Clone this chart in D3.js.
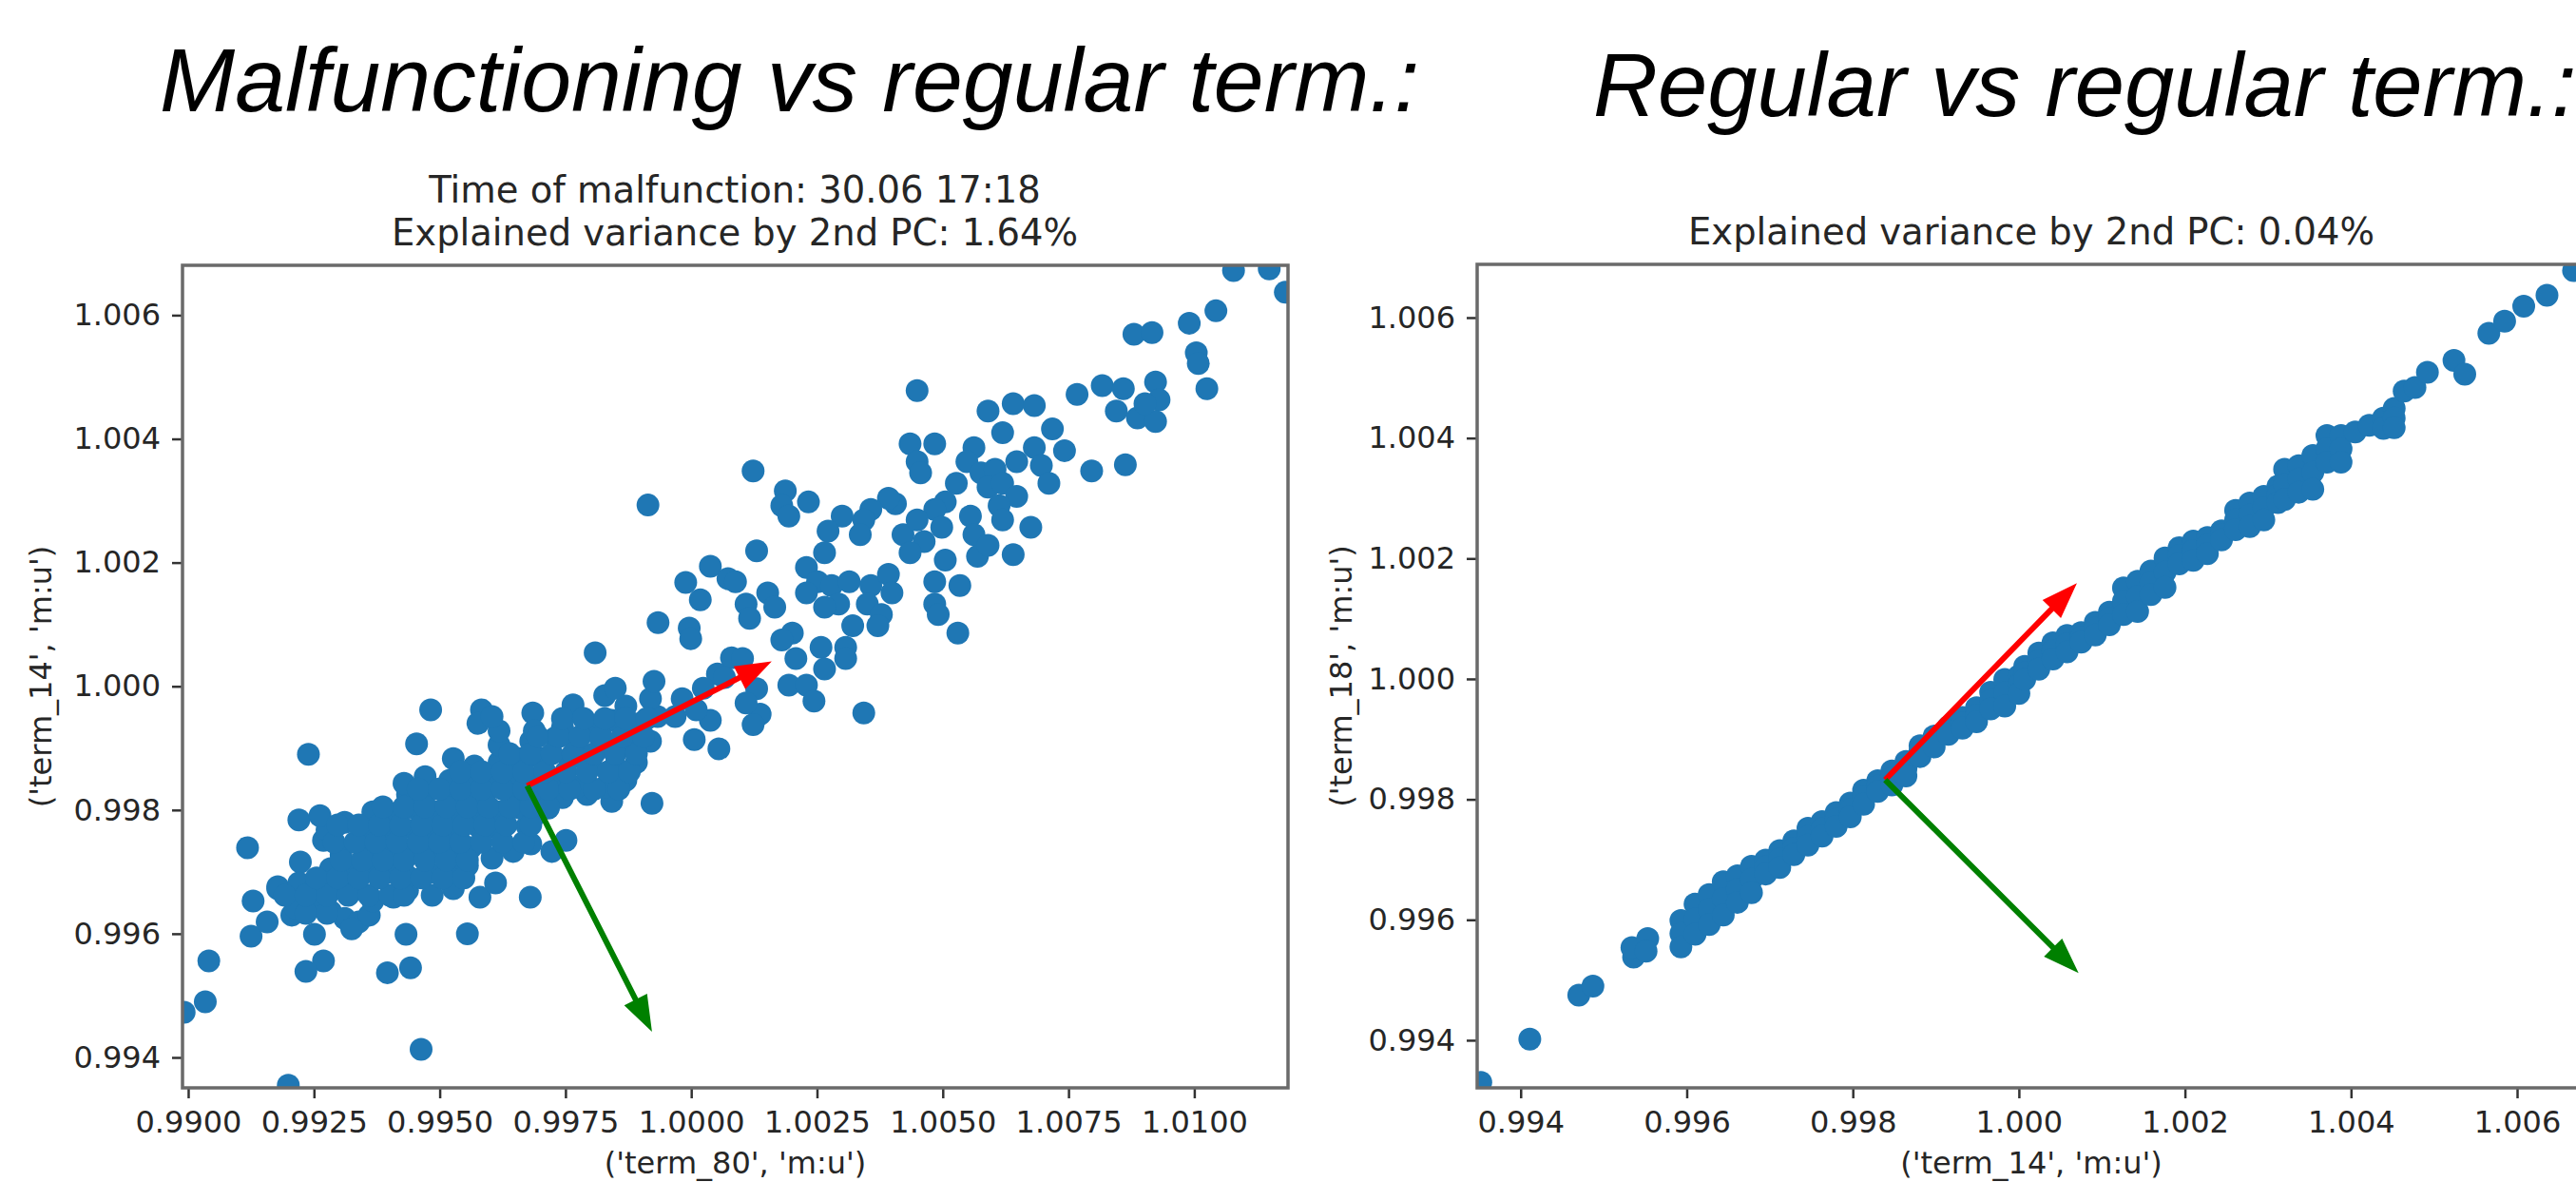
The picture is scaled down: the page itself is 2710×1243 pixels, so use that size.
<!DOCTYPE html>
<html>
<head>
<meta charset="utf-8">
<script src="https://cdn.jsdelivr.net/npm/d3@7"></script>
<style>
  body { margin: 0; background: #fff; }
  svg { display: block; }
</style>
</head>
<body>
<svg id="chart" width="2710" height="1243"></svg>
<script>
// ---- data ----
const headings = ["Malfunctioning vs regular term.:", "Regular vs regular term.:"];
const malfTitle = ["Time of malfunction: 30.06 17:18", "Explained variance by 2nd PC: 1.64%"];
const regTitle = ["Explained variance by 2nd PC: 0.04%"];
const malfLabels = ["('term_80', 'm:u')", "('term_14', 'm:u')"];
const regLabels = ["('term_14', 'm:u')", "('term_18', 'm:u')"];

const malfXDomain = [0.989887, 1.011863];
const malfYDomain = [0.993508, 1.006806];
const regXDomain = [0.993476, 1.006824];
const regYDomain = [0.993209, 1.006884];

const malfXTicks = [0.99, 0.9925, 0.995, 0.9975, 1.0, 1.0025, 1.005, 1.0075, 1.01];
const malfYTicks = [0.994, 0.996, 0.998, 1.0, 1.002, 1.004, 1.006];
const regXTicks = [0.994, 0.996, 0.998, 1.0, 1.002, 1.004, 1.006];
const regYTicks = [0.994, 0.996, 0.998, 1.0, 1.002, 1.004, 1.006];

// principal component arrows: origin, 1st PC end, 2nd PC end
const malfArrows = [[0.996738, 0.998392], [1.001600, 1.000404], [0.999220, 0.994414]];
const regArrows = [[0.998390, 0.998325], [1.000699, 1.001590], [1.000719, 0.995115]];

// malfunctioning terminal: outliers and lower cloud
const malfPoints = [
  [0.99239,0.99890],[0.99482,0.99962],[0.99454,0.99907],[0.99118,0.99739],[0.99220,0.99784],[0.99583,0.99962],
  [0.99685,0.99957],[0.99765,0.99970],[0.99809,1.00054],[0.99934,1.00103],[0.99996,1.00094],[0.99999,1.00077],
  [0.99989,1.00168],[1.00038,1.00194],[1.00018,1.00140],[1.00073,1.00174],[1.00080,1.00046],[0.99914,1.00293],
  [1.00052,1.00020],[1.00055,0.99899],[1.00006,0.99914],[1.00038,0.99945],[0.99922,0.99811],[0.99842,0.99814],
  [0.99751,0.99751],[0.99723,0.99733],[0.99680,0.99659],[0.99580,0.99659],[0.99611,0.99682],[0.99527,0.99673],
  [0.99485,0.99662],[0.99555,0.99600],[0.99433,0.99599],[0.99442,0.99545],[0.99396,0.99537],[0.99269,0.99556],
  [0.99234,0.99539],[0.99251,0.99599],[0.99041,0.99556],[0.99034,0.99490],[0.98992,0.99473],[0.99463,0.99413],
  [0.99199,0.99355],[0.99129,0.99653],[0.99125,0.99596],[0.99157,0.99619],[0.99206,0.99630],[0.99178,0.99673],
  [0.99223,0.99716],
  [0.99213,0.99642],[0.99255,0.99653],[0.99283,0.99636],[0.99311,0.99625],[0.99339,0.99619],[0.99360,0.99630],[0.99325,0.99608],
  [0.99178,0.99676],[0.99220,0.99682],[0.99255,0.99682],[0.99290,0.99676],[0.99325,0.99670],[0.99367,0.99653],[0.99408,0.99659],[0.99436,0.99670],
  [0.99283,0.99705],[0.99318,0.99699],[0.99353,0.99705],[0.99394,0.99699],[0.99436,0.99693],[0.99478,0.99699],[0.99520,0.99699],[0.99555,0.99710],
  [0.99269,0.99751],[0.99304,0.99728],[0.99353,0.99733],[0.99394,0.99739],[0.99436,0.99733],[0.99478,0.99728],[0.99520,0.99733],[0.99562,0.99739],
  [0.99604,0.99722],[0.99646,0.99733],[0.99681,0.99745],
  [0.99276,0.99768],[0.99360,0.99762],[0.99408,0.99762],[0.99450,0.99768],[0.99492,0.99762],[0.99534,0.99768],[0.99576,0.99774],[0.99618,0.99768],[0.99674,0.99774],
  [0.99262,0.99791],[0.99311,0.99780],[0.99367,0.99797],[0.99408,0.99791],[0.99450,0.99803],[0.99492,0.99797],[0.99534,0.99797],[0.99576,0.99803],
  [0.99618,0.99797],[0.99660,0.99803],[0.99688,0.99791],[0.99716,0.99803],
  [0.99436,0.99825],[0.99478,0.99831],[0.99520,0.99825],[0.99562,0.99825],[0.99604,0.99837],[0.99646,0.99831],[0.99695,0.99825],[0.99744,0.99820],[0.99793,0.99825],
  [0.99429,0.99843],[0.99471,0.99854],[0.99520,0.99848],[0.99562,0.99860],[0.99604,0.99854],[0.99646,0.99860],[0.99688,0.99848],[0.99730,0.99848],
  [0.99772,0.99837],[0.99828,0.99837],[0.99870,0.99848],
  [0.99527,0.99883],[0.99569,0.99871],[0.99618,0.99877],[0.99660,0.99883],[0.99702,0.99883],[0.99758,0.99883],[0.99800,0.99877],[0.99849,0.99871],[0.99891,0.99877],
  [0.99618,0.99905],[0.99681,0.99911],[0.99730,0.99917],[0.99772,0.99905],[0.99821,0.99911],[0.99870,0.99911],[0.99919,0.99911],
  [0.99576,0.99940],[0.99618,0.99928],[0.99688,0.99928],[0.99744,0.99934],[0.99793,0.99940],[0.99842,0.99945],[0.99898,0.99940],[0.99933,0.99951],
  [0.99828,0.99985],[0.99870,0.99968],[0.99919,0.99980],[0.99926,1.00008],[0.99849,0.99997],[0.99604,0.99951],
  [0.99982,0.99980],[1.00024,0.99997],[1.00066,1.00014],[0.99968,0.99951],[1.00010,0.99962]
];

// malfunctioning terminal: dense core, second pass of readings
const malfCore = [
  [0.99234,0.99633],[0.99276,0.99633],
  [0.99192,0.99662],[0.99234,0.99662],[0.99276,0.99662],[0.99318,0.99662],[0.99359,0.99662],[0.99401,0.99662],[0.99429,0.99662],
  [0.99255,0.99690],[0.99297,0.99690],[0.99339,0.99690],[0.99380,0.99690],[0.99422,0.99690],[0.99464,0.99690],[0.99506,0.99690],[0.99548,0.99690],
  [0.99304,0.99719],[0.99346,0.99719],[0.99387,0.99719],[0.99429,0.99719],[0.99471,0.99719],[0.99513,0.99719],[0.99555,0.99719],
  [0.99290,0.99748],[0.99332,0.99748],[0.99373,0.99748],[0.99415,0.99748],[0.99457,0.99748],[0.99499,0.99748],[0.99541,0.99748],
  [0.99583,0.99748],[0.99625,0.99748],[0.99667,0.99748],
  [0.99297,0.99776],[0.99339,0.99776],[0.99380,0.99776],[0.99422,0.99776],[0.99464,0.99776],[0.99506,0.99776],[0.99548,0.99776],
  [0.99590,0.99776],[0.99632,0.99776],[0.99681,0.99776],
  [0.99387,0.99805],[0.99429,0.99805],[0.99471,0.99805],[0.99513,0.99805],[0.99555,0.99805],[0.99597,0.99805],[0.99639,0.99805],
  [0.99681,0.99805],[0.99716,0.99805],
  [0.99457,0.99834],[0.99499,0.99834],[0.99541,0.99834],[0.99583,0.99834],[0.99625,0.99834],[0.99667,0.99834],[0.99716,0.99834],
  [0.99758,0.99834],[0.99807,0.99834],[0.99856,0.99834],
  [0.99541,0.99862],[0.99583,0.99862],[0.99625,0.99862],[0.99667,0.99862],[0.99709,0.99862],[0.99751,0.99862],[0.99793,0.99862],
  [0.99835,0.99862],[0.99877,0.99862],
  [0.99639,0.99891],[0.99681,0.99891],[0.99723,0.99891],[0.99765,0.99891],[0.99807,0.99891],[0.99849,0.99891],[0.99891,0.99891],
  [0.99695,0.99919],[0.99737,0.99919],[0.99779,0.99919],[0.99821,0.99919],[0.99863,0.99919],[0.99905,0.99919],
  [0.99744,0.99948],[0.99786,0.99948],[0.99828,0.99948],[0.99870,0.99948],[0.99912,0.99948]
];

// malfunctioning terminal: upper cloud
const malfUpper = [
  [1.01078,1.00672],[1.01149,1.00675],[1.01181,1.00637],[1.01043,1.00607],[1.00990,1.00587],[1.00880,1.00569],[1.00916,1.00572],
  [1.01004,1.00539],[1.01008,1.00522],[1.01025,1.00481],[1.00449,1.00478],[1.00590,1.00445],[1.00640,1.00457],[1.00682,1.00454],
  [1.00619,1.00410],[1.00718,1.00416],[1.00742,1.00381],[1.00796,1.00348],[1.00863,1.00358],
  [1.00767,1.00472],[1.00817,1.00486],[1.00859,1.00481],[1.00923,1.00492],[1.00930,1.00463],[1.00845,1.00445],[1.00887,1.00434],
  [1.00923,1.00428],[1.00902,1.00457],
  [1.00435,1.00392],[1.00484,1.00392],[1.00449,1.00363],[1.00456,1.00345],
  [1.00562,1.00386],[1.00548,1.00363],[1.00576,1.00345],[1.00604,1.00351],[1.00590,1.00322],[1.00619,1.00328],[1.00647,1.00307],
  [1.00612,1.00292],[1.00619,1.00269],
  [1.00647,1.00363],[1.00682,1.00386],[1.00696,1.00357],[1.00711,1.00328],[1.00675,1.00257],[1.00640,1.00213],
  [1.00527,1.00328],[1.00505,1.00298],[1.00484,1.00286],[1.00498,1.00257],
  [1.00555,1.00275],[1.00562,1.00245],[1.00569,1.00210],[1.00590,1.00228],
  [1.00421,1.00245],[1.00449,1.00269],[1.00463,1.00234],[1.00435,1.00216],[1.00505,1.00204],
  [1.00406,1.00295],[1.00392,1.00304],[1.00357,1.00286],[1.00343,1.00269],[1.00336,1.00245],[1.00300,1.00275],[1.00272,1.00251],
  [1.00265,1.00216],[1.00229,1.00192],[1.00251,1.00169],[1.00229,1.00151],
  [1.00187,1.00316],[1.00180,1.00292],[1.00194,1.00275],[1.00233,1.00298],[1.00123,1.00348],[1.00130,1.00219],
  [1.00279,1.00163],[1.00314,1.00169],[1.00357,1.00163],[1.00392,1.00181],[1.00399,1.00151],[1.00293,1.00133],[1.00265,1.00128],
  [1.00350,1.00133],[1.00378,1.00116],
  [1.00321,1.00098],[1.00371,1.00098],[1.00201,1.00086],[1.00180,1.00075],
  [1.00484,1.00169],[1.00534,1.00163],[1.00484,1.00133],[1.00491,1.00116],[1.00530,1.00086],
  [1.00208,1.00045],[1.00258,1.00063],[1.00307,1.00063],[1.00265,1.00028],[1.00307,1.00045],
  [1.00194,1.00002],[1.00229,1.00002],[1.00244,0.99976],[1.00343,0.99957],
  [1.00088,1.00169],[1.00109,1.00133],[1.00116,1.00110],[1.00152,1.00151],[1.00166,1.00128],
  [1.00130,0.99996],[1.00137,0.99955],[1.00123,0.99938],[1.00109,0.99973],[1.00102,1.00045]
];

// regular terminal: lower tail and band up to x = 1.000
const regLower = [
  [0.99352,0.99330],[0.99411,0.99402],[0.99470,0.99475],[0.99487,0.99490],
  [0.99536,0.99538],[0.99534,0.99554],[0.99553,0.99569],[0.99551,0.99548],
  [0.99593,0.99599],[0.99593,0.99577],[0.99593,0.99555],
  [0.99610,0.99626],[0.99610,0.99601],[0.99610,0.99576],
  [0.99627,0.99642],[0.99627,0.99617],[0.99627,0.99592],
  [0.99644,0.99663],[0.99644,0.99635],[0.99644,0.99608],
  [0.99661,0.99673],[0.99661,0.99651],[0.99661,0.99629],
  [0.99678,0.99689],[0.99678,0.99667],[0.99678,0.99645],
  [0.99695,0.99699],[0.99695,0.99688],[0.99695,0.99676],
  [0.99712,0.99715],[0.99712,0.99701],[0.99712,0.99687],
  [0.99729,0.99731],[0.99729,0.99719],[0.99729,0.99708],
  [0.99746,0.99752],[0.99746,0.99738],[0.99746,0.99724],
  [0.99763,0.99763],[0.99763,0.99751],[0.99763,0.99739],
  [0.99780,0.99778],[0.99780,0.99767],[0.99780,0.99755],
  [0.99797,0.99794],[0.99797,0.99783],[0.99797,0.99771],
  [0.99813,0.99815],[0.99813,0.99804],[0.99813,0.99792],
  [0.99830,0.99831],[0.99830,0.99822],[0.99830,0.99813],
  [0.99847,0.99847],[0.99847,0.99835],[0.99847,0.99824],
  [0.99864,0.99863],[0.99864,0.99851],[0.99864,0.99839],
  [0.99881,0.99889],[0.99881,0.99880],[0.99881,0.99871],
  [0.99898,0.99905],[0.99898,0.99896],[0.99898,0.99887],
  [0.99915,0.99920],[0.99915,0.99914],[0.99915,0.99908],
  [0.99932,0.99936],[0.99932,0.99927],[0.99932,0.99918],
  [0.99949,0.99952],[0.99949,0.99940],[0.99949,0.99929],
  [0.99966,0.99978],[0.99966,0.99964],[0.99966,0.99950],
  [0.99983,0.99999],[0.99983,0.99977],[0.99983,0.99955],
  [1.00000,1.00005],[1.00000,0.99990],[1.00000,0.99976]
];

// regular terminal: band above x = 1.000 and top outliers
const regUpper = [
  [1.00007,1.00021],[1.00007,1.00010],[1.00007,0.99999],
  [1.00024,1.00043],[1.00024,1.00030],[1.00024,1.00016],
  [1.00041,1.00060],[1.00041,1.00047],[1.00041,1.00033],
  [1.00058,1.00072],[1.00058,1.00058],[1.00058,1.00045],
  [1.00075,1.00077],[1.00075,1.00069],[1.00075,1.00061],
  [1.00092,1.00094],[1.00092,1.00084],[1.00092,1.00073],
  [1.00109,1.00111],[1.00109,1.00100],[1.00109,1.00090],
  [1.00126,1.00151],[1.00126,1.00129],[1.00126,1.00107],
  [1.00143,1.00162],[1.00143,1.00137],[1.00143,1.00112],
  [1.00159,1.00179],[1.00159,1.00160],[1.00159,1.00140],
  [1.00176,1.00201],[1.00176,1.00177],[1.00176,1.00152],
  [1.00193,1.00218],[1.00193,1.00205],[1.00193,1.00191],
  [1.00210,1.00229],[1.00210,1.00213],[1.00210,1.00197],
  [1.00227,1.00235],[1.00227,1.00222],[1.00227,1.00208],
  [1.00244,1.00246],[1.00244,1.00239],[1.00244,1.00231],
  [1.00261,1.00280],[1.00261,1.00264],[1.00261,1.00248],
  [1.00278,1.00292],[1.00278,1.00272],[1.00278,1.00253],
  [1.00295,1.00303],[1.00295,1.00284],[1.00295,1.00264],
  [1.00312,1.00320],[1.00312,1.00306],[1.00312,1.00293],
  [1.00320,1.00348],[1.00320,1.00323],[1.00320,1.00298],
  [1.00337,1.00354],[1.00337,1.00332],[1.00337,1.00310],
  [1.00354,1.00371],[1.00354,1.00343],[1.00354,1.00315],
  [1.00371,1.00404],[1.00371,1.00382],[1.00371,1.00360],
  [1.00388,1.00404],[1.00388,1.00382],[1.00388,1.00360],
  [1.00405,1.00410],[1.00422,1.00421],[1.00439,1.00433],[1.00439,1.00416],
  [1.00452,1.00449],[1.00452,1.00433],[1.00452,1.00417],
  [1.00464,1.00478],[1.00477,1.00484],[1.00492,1.00509],
  [1.00524,1.00529],[1.00537,1.00506],[1.00566,1.00574],[1.00585,1.00594],
  [1.00608,1.00619],[1.00636,1.00637],[1.00668,1.00678]
];

const svg = d3.select("#chart");
const blue = "#1f77b4";
const textCol = "#262626";
const frameCol = "#6a6a6a";

// big italic headings above the two panels
svg.append("text").attr("x", 168).attr("y", 117)
  .attr("font-family", "'Liberation Sans', Arial, sans-serif").attr("font-style", "italic")
  .attr("font-size", 95).attr("fill", "#000").text(headings[0]);
svg.append("text").attr("x", 1676).attr("y", 122)
  .attr("font-family", "'Liberation Sans', Arial, sans-serif").attr("font-style", "italic")
  .attr("font-size", 94).attr("fill", "#000").text(headings[1]);

function arrowPath(p0, p1, w, hw, hl) {
  let dx = p1[0] - p0[0], dy = p1[1] - p0[1];
  let L = Math.hypot(dx, dy);
  let ux = dx / L, uy = dy / L, nx = -uy, ny = ux;
  let bx = p1[0] - ux * hl, by = p1[1] - uy * hl;
  let pts = [
    [p0[0] + nx * w / 2, p0[1] + ny * w / 2],
    [bx + nx * w / 2, by + ny * w / 2],
    [bx + nx * hw / 2, by + ny * hw / 2],
    p1,
    [bx - nx * hw / 2, by - ny * hw / 2],
    [bx - nx * w / 2, by - ny * w / 2],
    [p0[0] - nx * w / 2, p0[1] - ny * w / 2]
  ];
  return d3.line()(pts) + "Z";
}

function panel(opt) {
  let x = d3.scaleLinear().domain(opt.xDomain).range([opt.left, opt.right]);
  let y = d3.scaleLinear().domain(opt.yDomain).range([opt.bottom, opt.top]);
  let g = svg.append("g");

  g.append("clipPath").attr("id", opt.id)
    .append("rect").attr("x", opt.left).attr("y", opt.top)
    .attr("width", opt.right - opt.left).attr("height", opt.bottom - opt.top);

  let plot = g.append("g").attr("clip-path", "url(#" + opt.id + ")");
  plot.selectAll("circle").data(opt.points).join("circle")
    .attr("cx", d => x(d[0])).attr("cy", d => y(d[1]))
    .attr("r", 12).attr("fill", blue);

  let o = [x(opt.arrows[0][0]), y(opt.arrows[0][1])];
  let pc1 = [x(opt.arrows[1][0]), y(opt.arrows[1][1])];
  let pc2 = [x(opt.arrows[2][0]), y(opt.arrows[2][1])];
  plot.append("path").attr("d", arrowPath(o, pc1, 6, 27, 38)).attr("fill", "#ff0000");
  plot.append("path").attr("d", arrowPath(o, pc2, 6, 27, 38)).attr("fill", "#008000");

  // axes
  let xa = g.append("g").attr("transform", "translate(0," + opt.bottom + ")")
    .call(d3.axisBottom(x).tickValues(opt.xTicks).tickFormat(d3.format(opt.xFmt))
      .tickSize(11).tickPadding(13));
  let ya = g.append("g").attr("transform", "translate(" + opt.left + ",0)")
    .call(d3.axisLeft(y).tickValues(opt.yTicks).tickFormat(d3.format(".3f"))
      .tickSize(11).tickPadding(12));
  [xa, ya].forEach(a => {
    a.select(".domain").remove();
    a.selectAll("line").attr("stroke", "#333").attr("stroke-width", 2.5);
    a.selectAll("text").attr("fill", textCol).attr("font-size", 32)
      .attr("font-family", "'DejaVu Sans', sans-serif");
  });

  g.append("rect").attr("x", opt.left).attr("y", opt.top)
    .attr("width", opt.right - opt.left).attr("height", opt.bottom - opt.top)
    .attr("fill", "none").attr("stroke", frameCol).attr("stroke-width", 3.5);

  // titles and axis labels
  let cx = (opt.left + opt.right) / 2;
  opt.title.forEach((t, i) => {
    g.append("text").attr("x", opt.titleX).attr("y", opt.titleY[i])
      .attr("text-anchor", "middle").attr("font-family", "'DejaVu Sans', sans-serif")
      .attr("font-size", 38.5).attr("fill", textCol).text(t);
  });
  g.append("text").attr("x", cx).attr("y", 1234).attr("text-anchor", "middle")
    .attr("font-family", "'DejaVu Sans', sans-serif").attr("font-size", 32)
    .attr("fill", textCol).text(opt.labels[0]);
  g.append("text").attr("transform", "translate(" + opt.yLabelX + "," + ((opt.top + opt.bottom) / 2) + ") rotate(-90)")
    .attr("text-anchor", "middle").attr("font-family", "'DejaVu Sans', sans-serif")
    .attr("font-size", 32).attr("fill", textCol).text(opt.labels[1]);
}

panel({
  id: "clipMalf", left: 192, right: 1355, top: 279, bottom: 1144,
  xDomain: malfXDomain, yDomain: malfYDomain, xTicks: malfXTicks, yTicks: malfYTicks, xFmt: ".4f",
  points: malfPoints.concat(malfCore, malfUpper), arrows: malfArrows,
  title: malfTitle, titleX: 773, titleY: [213, 258],
  labels: malfLabels, yLabelX: 54
});

panel({
  id: "clipReg", left: 1554, right: 2720, top: 278, bottom: 1144,
  xDomain: regXDomain, yDomain: regYDomain, xTicks: regXTicks, yTicks: regYTicks, xFmt: ".3f",
  points: regLower.concat(regUpper), arrows: regArrows,
  title: regTitle, titleX: 2137, titleY: [257],
  labels: regLabels, yLabelX: 1422
});
</script>
</body>
</html>
